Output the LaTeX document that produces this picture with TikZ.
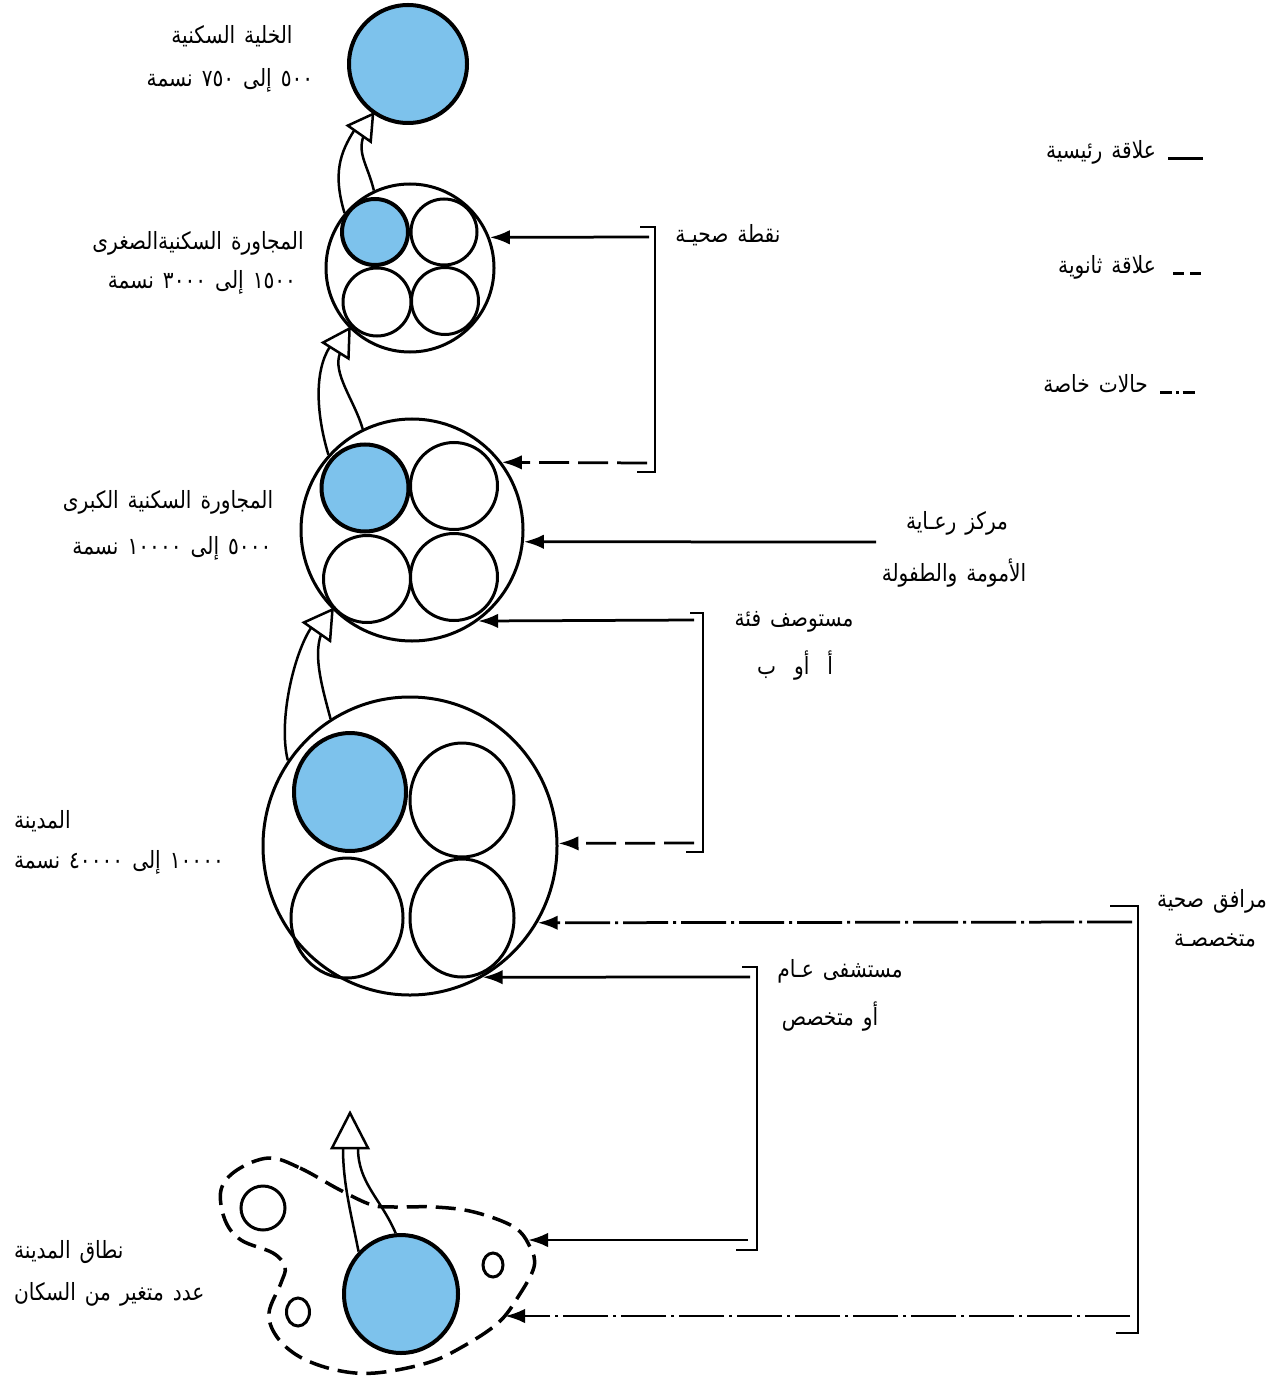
\documentclass[tikz,border=0pt]{standalone}
\usepackage{fontspec}
\newfontfamily\arabicfont[Script=Arabic, FakeStretch=0.85, WordSpace=1.4]{DejaVu Sans}
\TeXXeTstate=1
\usetikzlibrary{arrows.meta,shapes.geometric}
\definecolor{CellBlue}{HTML}{7DC2EC}
\tikzset{
  ring/.style={circle, draw, line width=0.6mm, inner sep=0pt},
  bluering/.style={ring, fill=CellBlue, line width=0.8mm},
  oval/.style={ellipse, draw, line width=0.6mm, inner sep=0pt},
  blueoval/.style={oval, fill=CellBlue, line width=0.8mm},
  lbl/.style={font=\arabicfont\fontsize{13.5}{16}\selectfont, inner sep=1pt},
  arr/.style={-{Latex[length=4mm,width=2.9mm]}, line width=0.55mm},
  secarr/.style={arr, dash pattern=on 6mm off 1.8mm},
  specarr/.style={arr, dash pattern=on 9mm off 1mm on 0.6mm off 1mm},
  bracket/.style={line width=0.45mm},
  shaft/.style={line width=0.5mm},
  hollowtip/.style={line width=0.5mm, fill=white, line join=miter},
  zone/.style={line width=0.7mm, dash pattern=on 4mm off 1.8mm},
  keyline/.style={line width=0.6mm}
}
\begin{document}
\begin{tikzpicture}[x=0.2mm, y=-0.2mm]
\useasboundingbox (0,0) rectangle (1278,1379);

% residential cell
\node[bluering, minimum size=23.6mm] (cell) at (408,64) {};
\node[lbl] (cellT) at (232,36) {\beginR الخلية السكنية\endR};
\node[lbl] (cellN) at (230,80) {\beginR ٥٠٠ إلى ٧٥٠ نسمة\endR};

% small neighbourhood
\node[ring, minimum size=33.6mm] (small) at (410,268) {};
\node[bluering, minimum size=13.2mm] (smallA) at (375,232) {};
\node[ring, minimum size=13.2mm] (smallB) at (444,232) {};
\node[ring, minimum size=13.6mm] (smallC) at (377,302) {};
\node[ring, minimum size=13.4mm] (smallD) at (445,301) {};
\node[lbl] (smallT) at (198,243) {\beginR المجاورة السكنيةالصغرى\endR};
\node[lbl] (smallN) at (202,282) {\beginR ١٥٠٠ إلى ٣٠٠٠ نسمة\endR};

% large neighbourhood
\node[ring, minimum size=44.4mm] (large) at (412,530) {};
\node[bluering, minimum size=17.4mm] (largeA) at (365,488) {};
\node[ring, minimum size=17.4mm] (largeB) at (454,486) {};
\node[ring, minimum size=17.4mm] (largeC) at (367,579) {};
\node[ring, minimum size=17.4mm] (largeD) at (454,577) {};
\node[lbl] (largeT) at (168,502) {\beginR المجاورة السكنية الكبرى\endR};
\node[lbl] (largeN) at (172,548) {\beginR ٥٠٠٠ إلى ١٠٠٠٠ نسمة\endR};

% city
\node[oval, minimum width=58.8mm, minimum height=59.6mm] (city) at (410,846) {};
\node[blueoval, minimum width=22.4mm, minimum height=23.6mm] (cityA) at (350,792) {};
\node[oval, minimum width=20.8mm, minimum height=22.8mm] (cityB) at (462,800) {};
\node[oval, minimum width=22.4mm, minimum height=24mm] (cityC) at (347,918) {};
\node[oval, minimum width=20.8mm, minimum height=23.6mm] (cityD) at (462,918) {};
\node[lbl, anchor=west] (cityT) at (12,821) {\beginR المدينة\endR};
\node[lbl, anchor=west] (cityN) at (12,862) {\beginR ١٠٠٠٠ إلى ٤٠٠٠٠ نسمة\endR};

% city region
\draw[zone] plot[smooth cycle, tension=0.6] coordinates {
  (269,1158) (300,1168) (340,1190) (372,1205) (395,1207) (435,1207)
  (474,1212) (514,1227) (530,1247) (534,1267) (518,1297) (498,1323)
  (462,1347) (427,1363) (375,1373) (336,1370) (300,1357) (277,1337)
  (269,1313) (281,1283) (285,1267) (273,1253) (241,1240) (225,1220)
  (221,1190) (237,1170)};
\coordinate (zoneA) at (528,1240);
\coordinate (zoneB) at (505,1316);
\node[blueoval, minimum width=22.8mm, minimum height=23.6mm] (core) at (401,1294) {};
\node[ring, minimum size=8.8mm] (townA) at (263,1208) {};
\node[oval, minimum width=4.6mm, minimum height=5.6mm] (townB) at (298,1312) {};
\node[oval, minimum width=4mm, minimum height=4.8mm] (townC) at (493,1265) {};
\node[lbl, anchor=west] (zoneT) at (12,1252) {\beginR نطاق المدينة\endR};
\node[lbl, anchor=west] (zoneN) at (12,1294) {\beginR عدد متغير من السكان\endR};

% growth arrows
\coordinate (tA) at (cell.235);
\draw[shaft] (small.140) .. controls +(-12,-40) and +(-14,22) .. ([shift={(tA)},rotate=55]-24,-6);
\draw[shaft] (small.115) .. controls +(-6,-25) and +(-6,18) .. ([shift={(tA)},rotate=55]-24,5);
\draw[hollowtip] (tA) -- ([shift={(tA)},rotate=55]-24,-14) -- ([shift={(tA)},rotate=55]-24,14) -- cycle;

\coordinate (tB) at (small.225);
\draw[shaft] (large.138) .. controls +(-12,-40) and +(-16,25) .. ([shift={(tB)},rotate=58]-26,-7);
\draw[shaft] (large.116) .. controls +(-8,-28) and +(-8,20) .. ([shift={(tB)},rotate=58]-26,5);
\draw[hollowtip] (tB) -- ([shift={(tB)},rotate=58]-26,-15) -- ([shift={(tB)},rotate=58]-26,15) -- cycle;

\coordinate (tC) at (large.225);
\draw[shaft] (city.145) .. controls +(-10,-40) and +(-17,25) .. ([shift={(tC)},rotate=55]-27,-7);
\draw[shaft] (city.122) .. controls +(-8,-30) and +(-8,22) .. ([shift={(tC)},rotate=55]-27,5);
\draw[hollowtip] (tC) -- ([shift={(tC)},rotate=55]-27,-16) -- ([shift={(tC)},rotate=55]-27,16) -- cycle;

\coordinate (tD) at (350,1113);
\draw[shaft] (core.135) .. controls +(-8,-40) and +(0,35) .. ([shift={(tD)},rotate=90]-35,-7);
\draw[shaft] (core.95) .. controls +(-15,-35) and +(0,35) .. ([shift={(tD)},rotate=90]-35,8);
\draw[hollowtip] (tD) -- ([shift={(tD)},rotate=90]-35,-18) -- ([shift={(tD)},rotate=90]-35,18) -- cycle;

% health point
\coordinate (pointTop) at (655,227);
\coordinate (pointBot) at (655,472);
\draw[bracket] ([xshift=-3mm]pointTop) -- (pointTop) -- (pointBot) -- ([xshift=-3.6mm]pointBot);
\coordinate (pointA) at (649,237);
\coordinate (pointB) at (647,463);
\draw[arr] (pointA) -- (small.21.7);
\draw[secarr] (pointB) -- (large.37.1);
\node[lbl] (pointT) at (728,235) {\beginR نقطة صحيـة\endR};

% mother and child centre
\coordinate (careA) at (876,542);
\draw[arr] (careA) -- (large.-6.2);
\node[lbl] (careT) at (957,523) {\beginR مركز رعـاية\endR};
\node[lbl] (careB) at (954,573) {\beginR الأمومة والطفولة\endR};

% clinic
\coordinate (clinicTop) at (703,613);
\coordinate (clinicBot) at (703,852);
\draw[bracket] ([xshift=-2.6mm]clinicTop) -- (clinicTop) -- (clinicBot) -- ([xshift=-3.4mm]clinicBot);
\coordinate (clinicA) at (694,620);
\coordinate (clinicB) at (694,843);
\draw[arr] (clinicA) -- (large.-54.2);
\draw[secarr] (clinicB) -- (city.1.2);
\node[lbl] (clinicT) at (794,622) {\beginR مستوصف فئة\endR};
\node[lbl] (clinicN) at (795,666) {\beginR أ\ \ أو\ \ ب\endR};

% hospital
\coordinate (hospTop) at (757,967);
\coordinate (hospBot) at (757,1250);
\draw[bracket] ([xshift=-3mm]hospTop) -- (hospTop) -- (hospBot) -- ([xshift=-4.2mm]hospBot);
\coordinate (hospA) at (750,977);
\coordinate (hospB) at (748,1240);
\draw[arr] (hospA) -- (city.-61.9);
\draw[arr] (hospB) -- (zoneA);
\node[lbl] (hospT) at (840,971) {\beginR مستشفى عـام\endR};
\node[lbl] (hospN) at (830,1017) {\beginR أو متخصص\endR};

% specialised facilities
\coordinate (specTop) at (1138,906);
\coordinate (specBot) at (1138,1333);
\draw[bracket] ([xshift=-5.6mm]specTop) -- (specTop) -- (specBot) -- ([xshift=-4.4mm]specBot);
\coordinate (specA) at (1132,922);
\coordinate (specB) at (1130,1316);
\draw[specarr] (specA) -- (city.-31);
\draw[specarr] (specB) -- (zoneB);
\node[lbl] (specT) at (1212,901) {\beginR مرافق صحية\endR};
\node[lbl] (specN) at (1215,940) {\beginR متخصصـة\endR};

% key
\node[lbl, anchor=east] (keyA) at (1158,152) {\beginR علاقة رئيسية\endR};
\node[lbl, anchor=east] (keyB) at (1158,267) {\beginR علاقة ثانوية\endR};
\node[lbl, anchor=east] (keyC) at (1150,384) {\beginR حالات خاصة\endR};
\draw[keyline] ([xshift=2mm]keyA.base east) -- ++(7mm,0);
\draw[keyline, dash pattern=on 2.2mm off 1.2mm] ([xshift=3mm]keyB.base east) -- ++(5.6mm,0);
\draw[keyline, dash pattern=on 2.4mm off 0.8mm on 0.5mm off 0.8mm] ([xshift=2mm]keyC.base east) -- ++(6.9mm,0);
\end{tikzpicture}
\end{document}
